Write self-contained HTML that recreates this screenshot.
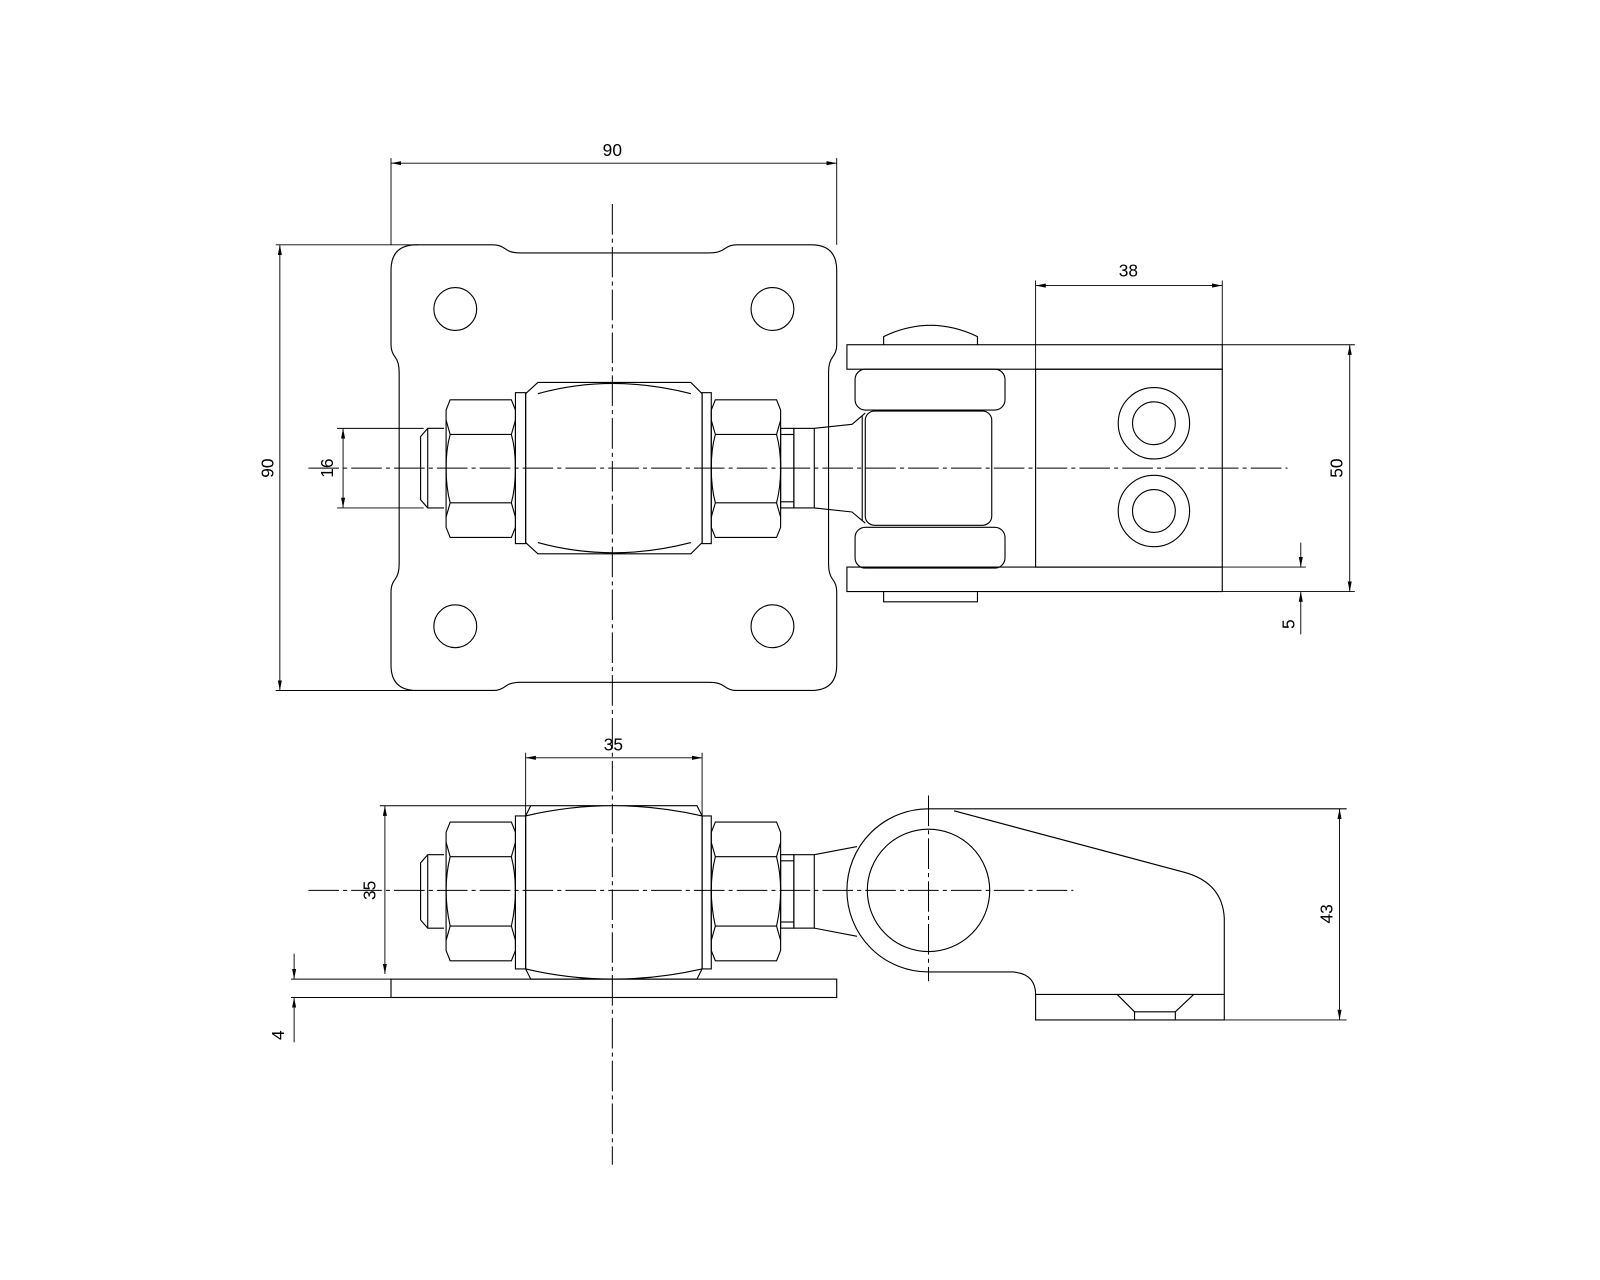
<!DOCTYPE html>
<html><head><style>html,body{margin:0;padding:0;background:#fff}svg{display:block}</style></head>
<body>
<svg width="1600" height="1280" viewBox="0 0 1568 1255" xmlns="http://www.w3.org/2000/svg" fill="none" stroke="#000" stroke-width="1.1" font-family="Liberation Sans, sans-serif">
<defs>
<marker id="a" markerWidth="10" markerHeight="6" refX="10" refY="3" orient="auto-start-reverse" markerUnits="userSpaceOnUse"><path d="M0,1 L10,3 L0,5z" fill="#000" stroke="none"/></marker>
</defs>
<g stroke-dasharray="30,4,4,4" stroke-width="1">
<line x1="600" y1="200" x2="600" y2="1142"/>
<line x1="302" y1="459" x2="1262" y2="459"/>
<line x1="302" y1="873" x2="1052" y2="873"/>
<line x1="910" y1="780" x2="910" y2="962"/>
</g>
<path d="M408,240 L483,240 Q490,240 495,244 Q500,248 510,248 L695,248 Q705,248 710,244 Q715,240 722,240 L795,240 Q820,240 820,265 L820,338 Q820,345 816,350 Q812,355 812,365 L812,553 Q812,563 816,568 Q820,573 820,580 L820,652 Q820,677 795,677 L722,677 Q715,677 710,673 Q705,669 695,669 L510,669 Q500,669 495,673 Q490,677 483,677 L408,677 Q383,677 383,652 L383,580 Q383,573 387,568 Q391,563 391,553 L391,365 Q391,355 387,350 Q383,345 383,338 L383,265 Q383,240 408,240Z"/>
<circle cx="446" cy="303" r="21"/><circle cx="757" cy="303" r="21"/>
<circle cx="446" cy="614" r="21"/><circle cx="757" cy="614" r="21"/>
<g>
<path d="M435,420 L419,420 L412,428 L412,490 L419,498 L435,498"/>
<line x1="419" y1="420" x2="419" y2="498"/>
<path d="M441,392 L501,392 L505,402 L505,517 L501,527 L441,527 L437,517 L437,402Z"/>
<path d="M437,412 L441,426 L501,426 L505,412 M441,426 Q437,440 437,459 Q437,478 441,493 M501,426 Q505,440 505,459 Q505,478 501,493 M437,507 L441,493 L501,493 L505,507"/>
<rect x="505" y="385" width="10" height="148"/>
<path d="M515,386 L527,375 L677,375 L688,386 M527,386 Q600,366 677,386 M515,532 L527,543 L677,543 L688,532 M527,532 Q600,552 677,532"/>
<line x1="515" y1="386" x2="515" y2="532"/><line x1="688" y1="386" x2="688" y2="532"/>
<rect x="688" y="385" width="9" height="148"/>
<path d="M701,392 L761,392 L765,402 L765,517 L761,527 L701,527 L697,517 L697,402Z"/>
<path d="M697,412 L701,426 L761,426 L765,412 M701,426 Q697,440 697,459 Q697,478 701,493 M761,426 Q765,440 765,459 Q765,478 761,493 M697,507 L701,493 L761,493 L765,507"/>
<rect x="765" y="420" width="13" height="78"/>
<line x1="765" y1="426" x2="778" y2="426"/><line x1="765" y1="492" x2="778" y2="492"/>
<rect x="778" y="420" width="20" height="78"/>
</g>
<path d="M798,420 L835,416 L848,405 M798,498 L835,502 L848,513"/>
<line x1="845" y1="408" x2="845" y2="510"/>
<rect x="848" y="403" width="124" height="112" rx="9"/>
<rect x="838" y="362" width="147" height="40" rx="10"/>
<rect x="838" y="517" width="147" height="40" rx="10"/>
<rect x="830" y="338" width="368" height="24"/>
<rect x="830" y="556" width="368" height="24"/>
<path d="M866,338 L866,330 Q912,308 958,330 L958,338"/>
<path d="M866,580 L866,590 L958,590 L958,580"/>
<rect x="1015" y="362" width="183" height="194"/>
<circle cx="1131" cy="415" r="35"/><circle cx="1131" cy="415" r="21"/>
<circle cx="1131" cy="501" r="35"/><circle cx="1131" cy="501" r="21"/>
<g stroke-width="0.9">
<line x1="383" y1="155" x2="383" y2="240"/><line x1="820" y1="155" x2="820" y2="240"/>
<line x1="383" y1="160" x2="820" y2="160" marker-start="url(#a)" marker-end="url(#a)"/>
<line x1="270" y1="240" x2="410" y2="240"/><line x1="270" y1="677" x2="410" y2="677"/>
<line x1="274" y1="240" x2="274" y2="677" marker-start="url(#a)" marker-end="url(#a)"/>
<line x1="330" y1="420" x2="415" y2="420"/><line x1="330" y1="498" x2="415" y2="498"/>
<line x1="336" y1="420" x2="336" y2="498" marker-start="url(#a)" marker-end="url(#a)"/>
<line x1="1015" y1="275" x2="1015" y2="362"/><line x1="1198" y1="275" x2="1198" y2="338"/>
<line x1="1015" y1="280" x2="1198" y2="280" marker-start="url(#a)" marker-end="url(#a)"/>
<line x1="1198" y1="338" x2="1328" y2="338"/><line x1="1198" y1="580" x2="1328" y2="580"/>
<line x1="1323" y1="338" x2="1323" y2="580" marker-start="url(#a)" marker-end="url(#a)"/>
<line x1="1198" y1="556" x2="1280" y2="556"/>
<line x1="1275" y1="532" x2="1275" y2="556" marker-end="url(#a)"/>
<line x1="1275" y1="622" x2="1275" y2="580" marker-end="url(#a)"/>
</g>
<rect x="383" y="960" width="437" height="18"/>
<line x1="285" y1="960" x2="383" y2="960" stroke-width="0.9"/><line x1="285" y1="978" x2="383" y2="978" stroke-width="0.9"/>
<line x1="288" y1="935" x2="288" y2="960" marker-end="url(#a)" stroke-width="0.9"/>
<line x1="288" y1="1022" x2="288" y2="978" marker-end="url(#a)" stroke-width="0.9"/>
<g>
<path d="M435,838 L419,838 L412,846 L412,902 L419,910 L435,910"/>
<line x1="419" y1="838" x2="419" y2="910"/>
<path d="M441,806 L501,806 L505,816 L505,932 L501,942 L441,942 L437,932 L437,816Z"/>
<path d="M437,826 L441,840 L501,840 L505,826 M441,840 Q437,856 437,873 Q437,890 441,908 M501,840 Q505,856 505,873 Q505,890 501,908 M437,922 L441,908 L501,908 L505,922"/>
<rect x="505" y="800" width="10" height="150"/>
<path d="M515,800 L520,790 L683,790 L688,800 M515,800 Q600,780 688,800 M515,950 L520,960 L683,960 L688,950 M515,950 Q600,970 688,950"/>
<line x1="515" y1="800" x2="515" y2="950"/><line x1="688" y1="800" x2="688" y2="950"/>
<rect x="688" y="800" width="9" height="150"/>
<path d="M701,806 L761,806 L765,816 L765,932 L761,942 L701,942 L697,932 L697,816Z"/>
<path d="M697,826 L701,840 L761,840 L765,826 M701,840 Q697,856 697,873 Q697,890 701,908 M761,840 Q765,856 765,873 Q765,890 761,908 M697,922 L701,908 L761,908 L765,922"/>
<rect x="765" y="838" width="13" height="72"/>
<line x1="765" y1="844" x2="778" y2="844"/><line x1="765" y1="904" x2="778" y2="904"/>
<rect x="778" y="838" width="20" height="72"/>
</g>
<path d="M798,838 L840,830 M798,910 L840,918"/>
<circle cx="910" cy="873" r="60"/>
<path d="M910,793 A80,80 0 0 0 910,953 L993,953 Q1015,955 1015,975 L1015,1000 L1200,1000 L1200,900 Q1198,865 1160,855 L935,795 M910,793 L1320,793"/>
<line x1="1015" y1="975" x2="1200" y2="975"/>
<path d="M1095,975 L1112,992 L1152,992 L1170,975 M1112,992 L1112,1000 M1152,992 L1152,1000"/>
<g stroke-width="0.9">
<line x1="515" y1="738" x2="515" y2="800"/><line x1="688" y1="738" x2="688" y2="800"/>
<line x1="515" y1="743" x2="688" y2="743" marker-start="url(#a)" marker-end="url(#a)"/>
<line x1="372" y1="790" x2="520" y2="790"/>
<line x1="377" y1="790" x2="377" y2="955" marker-start="url(#a)" marker-end="url(#a)"/>
<line x1="1200" y1="1000" x2="1320" y2="1000"/>
<line x1="1313" y1="793" x2="1313" y2="1000" marker-start="url(#a)" marker-end="url(#a)"/>
</g>
<g fill="#000" stroke="none" font-size="17" text-anchor="middle">
<text x="600" y="153">90</text>
<text x="1106" y="271">38</text>
<text x="601" y="736">35</text>
<text transform="translate(268,459) rotate(-90)">90</text>
<text transform="translate(326,459) rotate(-90)">16</text>
<text transform="translate(1316,459) rotate(-90)">50</text>
<text transform="translate(1269,612) rotate(-90)">5</text>
<text transform="translate(368,873) rotate(-90)">35</text>
<text transform="translate(1306,896) rotate(-90)">43</text>
<text transform="translate(278,1015) rotate(-90)">4</text>
</g>
</svg>
</body></html>
